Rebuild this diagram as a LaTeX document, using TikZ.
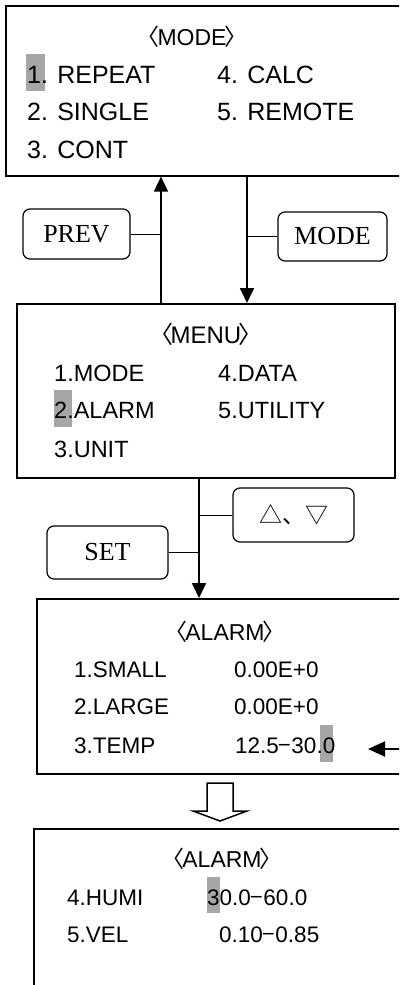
\documentclass[tikz,border=0pt]{standalone}
\usepackage{fontspec}
\setmainfont{Liberation Serif}
\newfontfamily\gothic{Liberation Sans}
\newfontfamily\cjk{Noto Sans CJK JP}
\usetikzlibrary{arrows.meta,positioning,calc}
\definecolor{hlgray}{HTML}{A6A6A6}
\newcommand\fsz[1]{\fontsize{#1}{#1}\selectfont}
\newcommand\ttlbr[1]{{\cjk 〈}\kern-0.1em#1\kern-0.1em{\cjk 〉}}

\begin{document}
\begin{tikzpicture}[x=1pt,y=-1pt,
  screen/.style={draw,line width=1.6pt,anchor=north west,inner sep=0pt},
  keybox/.style={draw,rounded corners=7pt,line width=1.2pt,inner sep=0pt,font=\fsz{26}},
  arr/.style={line width=1.8pt,-{Triangle[length=15pt,width=14pt]}},
  tie/.style={line width=1pt},
  item/.style={anchor=base west,inner sep=0pt},
  ttl/.style={anchor=base,inner sep=0pt},
  hl/.style={fill=hlgray,draw=none}]
  \useasboundingbox (0,0) rectangle (399,985);
  \clip (0,0) rectangle (399,985);
  % screens
  \node[screen,minimum width=430pt,minimum height=170pt] (modebox) at (5,5) {};
  \node[screen,minimum width=378pt,minimum height=174pt] (menubox) at (16,303) {};
  \node[screen,minimum width=400pt,minimum height=175pt] (alarmA) at (36,598) {};
  \node[screen,minimum width=400pt,minimum height=156.5pt] (alarmB) at (33,828) {};
  % highlights
  \fill[hl] (26,54) rectangle (45,91);
  \fill[hl] (54,390) rectangle (72,427);
  \fill[hl] (320,725) rectangle (333,762);
  \fill[hl] (207,877) rectangle (220,913);
  % <MODE>
  \begin{scope}[every node/.append style={font=\gothic\fsz{25}}]
    \node[ttl,font=\gothic\fsz{23}] (modettl) at (192,45) {\ttlbr{MODE}};
    \node[item] (mrep) at (27,83) {1. REPEAT};
    \node[item] (msgl) at (27,120) {2. SINGLE};
    \node[item] (mcont) at (27,158) {3. CONT};
    \node[item] (mcalc) at (217,83) {4. CALC};
    \node[item] (mrem) at (217,120) {5. REMOTE};
  \end{scope}
  % <MENU>
  \begin{scope}[every node/.append style={font=\gothic\fsz{23.5}}]
    \node[ttl,font=\gothic\fsz{24}] (menuttl) at (206,343) {\ttlbr{MENU}};
    \node[item] (nmode) at (54,381) {1.MODE};
    \node[item] (nalarm) at (54,418) {2.ALARM};
    \node[item] (nunit) at (54,457) {3.UNIT};
    \node[item] (ndata) at (218,381) {4.DATA};
    \node[item] (nutil) at (218,418) {5.UTILITY};
  \end{scope}
  % <ALARM> 1-3
  \begin{scope}[every node/.append style={font=\gothic\fsz{22.5}}]
    \node[ttl,font=\gothic\fsz{23}] (alarmttlA) at (225,640) {\ttlbr{ALARM}};
    \node[item] (asmall) at (74,677) {1.SMALL};
    \node[item] (alarge) at (74,714) {2.LARGE};
    \node[item] (atemp) at (74,753) {3.TEMP};
    \node[item] (vsmall) at (234,677) {0.00E+0};
    \node[item] (vlarge) at (234,714) {0.00E+0};
    \node[item] (vtemp) at (235,753) {12.5{\cjk −}30.0};
  \end{scope}
  % <ALARM> 4-5
  \begin{scope}[every node/.append style={font=\gothic\fsz{22.5}}]
    \node[ttl,font=\gothic\fsz{23}] (alarmttlB) at (222,867) {\ttlbr{ALARM}};
    \node[item] (ahumi) at (67,905) {4.HUMI};
    \node[item] (avel) at (67,942) {5.VEL};
    \node[item] (vhumi) at (207,905) {30.0{\cjk −}60.0};
    \node[item] (vvel) at (219,942) {0.10{\cjk −}0.85};
  \end{scope}
  % keys
  \node[keybox,minimum width=107pt,minimum height=50pt] (prevkey) at (76.5,234) {PREV};
  \node[keybox,minimum width=109pt,minimum height=49pt] (modekey) at (332.5,236.5) {MODE};
  \node[keybox,minimum width=121pt,minimum height=54pt,font=\cjk\fsz{23}] (updnkey) at (293.5,515) {△、▽};
  \node[keybox,minimum width=121pt,minimum height=53pt] (setkey) at (107.5,552.5) {SET};
  % connectors
  \coordinate (upline) at (161,0);
  \coordinate (dnline) at (247,0);
  \coordinate (setline) at (199,0);
  \draw[arr] (upline |- menubox.north) -- (upline |- modebox.south);
  \draw[arr] (dnline |- modebox.south) -- (dnline |- menubox.north);
  \draw[arr] (setline |- menubox.south) -- (setline |- alarmA.north);
  \draw[tie] (prevkey.east) -- (prevkey.east -| upline);
  \draw[tie] (modekey.west) -- (modekey.west -| dnline);
  \draw[tie] (setkey.east) -- (setkey.east -| setline);
  \draw[tie] (updnkey.west) -- (updnkey.west -| setline);
  \coordinate (tempin) at (402,749);
  \coordinate (temptip) at (368,749);
  \draw[line width=1.8pt,-{Triangle[length=17pt,width=15pt]}] (tempin) -- (temptip);
  % page-down arrow
  \draw[line width=1.5pt,line join=miter] (207,783) -- (233,783) -- (233,811) -- (247,811)
    -- (220,821) -- (193,811) -- (207,811) -- cycle;
\end{tikzpicture}
\end{document}
